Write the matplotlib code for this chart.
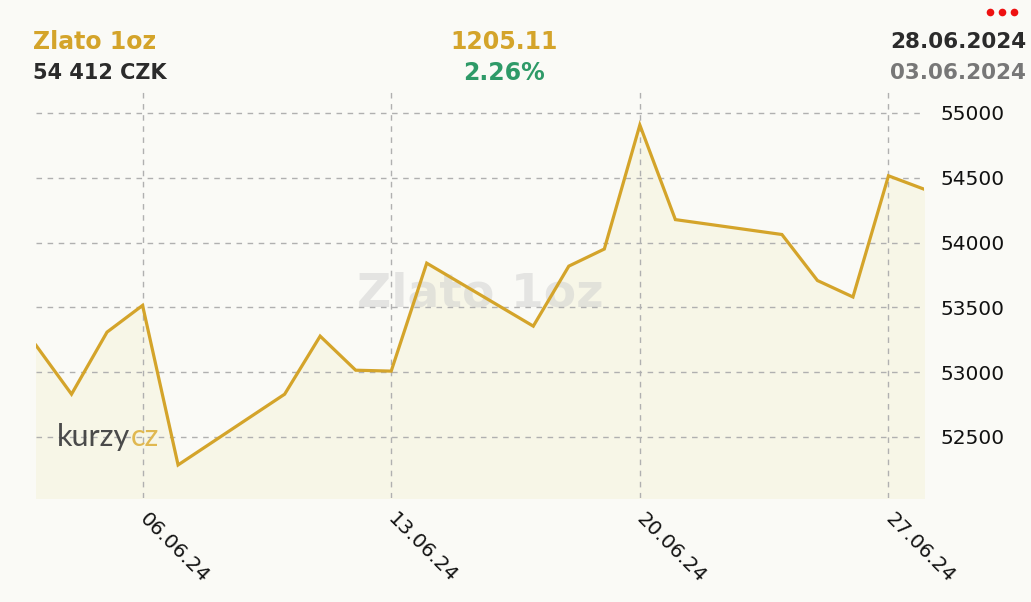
import matplotlib
matplotlib.use("Agg")
import matplotlib.pyplot as plt
from matplotlib.lines import Line2D
import numpy as np
import pandas as pd

# Data
dates = ["2024-06-03", "2024-06-04", "2024-06-05", "2024-06-06", "2024-06-07",
         "2024-06-10", "2024-06-11", "2024-06-12", "2024-06-13", "2024-06-14",
         "2024-06-17", "2024-06-18", "2024-06-19", "2024-06-20", "2024-06-21",
         "2024-06-24", "2024-06-25", "2024-06-26", "2024-06-27", "2024-06-28"]
prices = [53206.89, 52830, 53309, 53515, 52284,
          52830, 53278, 53015, 53008, 53841,
          53355, 53818, 53950, 54907, 54177,
          54062, 53707, 53580, 54515, 54412.00]
yticks = [52500, 53000, 53500, 54000, 54500, 55000]
xtick_dates = ["2024-06-06", "2024-06-13", "2024-06-20", "2024-06-27"]
xtick_labels = ["06.06.24", "13.06.24", "20.06.24", "27.06.24"]

title = "Zlato 1oz"
last_txt = "54 412 CZK"
diff_txt = "1205.11"
pct_txt = "2.26%"
date_to = "28.06.2024"
date_from = "03.06.2024"

GOLD = "#d4a42a"
BG = "#fafaf6"
FILL = "#f7f6e7"
DARK = "#2b2b2b"

W, H = 1031, 602
x = pd.to_datetime(dates)

fig = plt.figure(figsize=(W / 100, H / 100), dpi=100, facecolor=BG)
# axes box in pixels: left 36, right 924, top 90, bottom 498
ax = fig.add_axes([36 / W, (H - 498) / H, (924 - 36) / W, (498 - 90) / H])
ax.set_facecolor(BG)
ax.set_axisbelow(False)  # grid above the fill, below the line

ax.fill_between(x, prices, 52029, color=FILL, zorder=2)
ax.plot(x, prices, color=GOLD, lw=2.3, zorder=4, solid_joinstyle="miter")

ax.set_xlim(x[0], x[-1])
ax.set_ylim(52029, 55177)

ax.yaxis.tick_right()
ax.set_yticks(yticks)
ax.set_yticklabels([str(v) for v in yticks], fontsize=14.5, color="#111111")
ax.set_xticks(pd.to_datetime(xtick_dates))
ax.set_xticklabels(xtick_labels, fontsize=14.5, color="#111111")
plt.setp(ax.get_xticklabels(), rotation=-45, ha="left", va="center",
         rotation_mode="anchor")
ax.tick_params(axis="y", length=0, pad=12)
ax.tick_params(axis="x", length=0, pad=13)
ax.grid(True, color="#b0b0b0", ls=(0, (4, 4)), lw=1)
for s in ax.spines.values():
    s.set_visible(False)

# watermark (semi-transparent, over the fill)
ax.text(0.5, 0.5, title, transform=ax.transAxes, fontsize=34, fontweight="bold",
        color="#cfcfcf", alpha=0.5, ha="center", va="center", zorder=2.2)

# logo: "kurzy" + "cz" placed right after it
logo = fig.text(57 / W, (H - 437) / H, "kurzy", fontsize=22, family="Lato",
                color="#4a4a4a", ha="left", va="center", zorder=6)
fig.canvas.draw()
bb = logo.get_window_extent()
fig.text(bb.x1 / W, (H - 437) / H, "cz", fontsize=22, family="Lato",
         color="#e0b850", ha="left", va="center", zorder=6)

# header
fig.text(33 / W, (H - 42) / H, title, fontsize=17, fontweight="bold", color=GOLD,
         ha="left", va="center")
fig.text(33 / W, (H - 73) / H, last_txt, fontsize=15, fontweight="bold", color=DARK,
         ha="left", va="center")
fig.text(504 / W, (H - 42) / H, diff_txt, fontsize=17, fontweight="bold", color=GOLD,
         ha="center", va="center")
fig.text(504 / W, (H - 73) / H, pct_txt, fontsize=17, fontweight="bold",
         color="#2e9a68", ha="center", va="center")
fig.text(1026 / W, (H - 42) / H, date_to, fontsize=15.5, fontweight="bold", color=DARK,
         ha="right", va="center")
fig.text(1026 / W, (H - 73) / H, date_from, fontsize=15.5, fontweight="bold",
         color="#777777", ha="right", va="center")
# menu dots
fig.add_artist(Line2D([990 / W, 1002 / W, 1014 / W], [(H - 12) / H] * 3,
                      transform=fig.transFigure, ls="none", marker="o",
                      ms=5.5, color="#ee1111", mec="none"))

fig.savefig("out.png", dpi=100, facecolor=BG)
